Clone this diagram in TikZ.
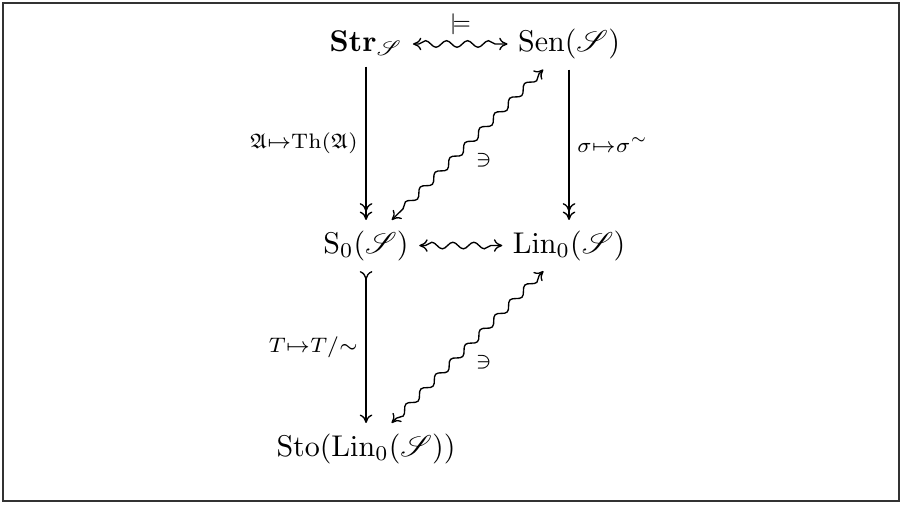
\documentclass[tikz,border=0pt]{standalone}
\usepackage{amssymb}
\usepackage{mathrsfs}
\usetikzlibrary{arrows.meta,decorations.pathmorphing}

\begin{document}
\begin{tikzpicture}[line width=0.45pt, >={Computer Modern Rightarrow[length=2.8pt,width=4.2pt]},
    obj/.style={anchor=base, inner sep=3.3pt},
    lbl/.style={inner sep=2.5pt},
    sq/.style={decorate, decoration={snake, amplitude=1.1pt, segment length=7pt,
      pre length=2pt, post length=2pt}}]
  \useasboundingbox (0,0) rectangle (10.59,-5.905);
  \draw[line width=0.6pt, black!80] (0.035,-0.035) rectangle (10.532,-5.869);
  % the objects
  \node[obj] (str) at (4.288,-0.603) {$\mathbf{Str}_{\mathscr{S}}$};
  \node[obj] (sen) at (6.666,-0.603) {$\mathrm{Sen}(\mathscr{S})$};
  \node[obj] (szero) at (4.288,-2.964) {$\mathrm{S}_0(\mathscr{S})$};
  \node[obj] (lin) at (6.666,-2.964) {$\mathrm{Lin}_0(\mathscr{S})$};
  \node[obj] (sto) at (4.288,-5.342) {$\mathrm{Sto}(\mathrm{Lin}_0(\mathscr{S}))$};
  % the maps
  \draw[->>] (str) -- node[lbl,midway,left] {$\scriptstyle\mathfrak{A}\mapsto\mathrm{Th}(\mathfrak{A})$} (szero);
  \draw[->>] (sen) -- node[lbl,midway,right] {$\scriptstyle\sigma\mapsto\sigma^{\sim}$} (lin);
  \draw[>->] (szero) -- node[lbl,midway,left] {$\scriptstyle T\mapsto T/{\sim}$} (sto);
  % the correspondences
  \draw[sq,<->] ([yshift=2.5pt]str.base east) -- node[lbl,midway,above,inner sep=3pt] {$\scriptstyle\models$} ([yshift=2.5pt]sen.base west);
  \draw[sq,<->] ([yshift=2.5pt]szero.base east) -- ([yshift=2.5pt]lin.base west);
  \draw[sq,<->] (sen) -- node[lbl,midway,below right=0pt] {$\scriptstyle\ni$} (szero);
  \draw[sq,<->] (lin) -- node[lbl,midway,below right=0pt] {$\scriptstyle\ni$} (sto);
\end{tikzpicture}
\end{document}
